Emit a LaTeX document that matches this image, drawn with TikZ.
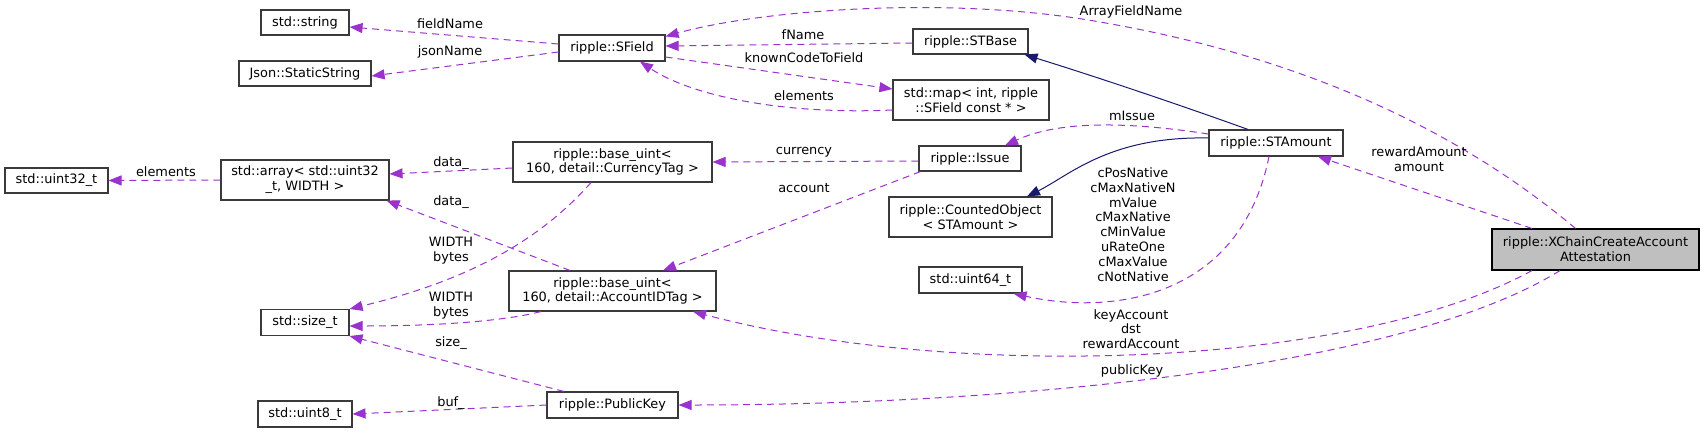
\documentclass[tikz,border=0pt]{standalone}
\usepackage{fontspec}
\setmainfont{DejaVu Sans}
\usetikzlibrary{arrows.meta}
\definecolor{edgepurple}{HTML}{9A32CD}
\definecolor{navyedge}{HTML}{191970}
\definecolor{boxborder}{HTML}{3A3A3A}
\definecolor{focusfill}{HTML}{BFBFBF}
\newcommand\dxfont{\fontsize{12.9}{14.8}\selectfont}
\begin{document}
\begin{tikzpicture}[x=1pt,y=-1pt,
  cls/.style={draw=boxborder, line width=1.1pt, fill=white, inner sep=0pt, align=center, font=\dxfont, text=black},
  focus/.style={cls, fill=focusfill, draw=black},
  member/.style={draw=edgepurple, line width=1pt, dash pattern=on 7pt off 5pt, -{Triangle[length=13pt,width=10pt]}},
  inherit/.style={draw=navyedge, line width=1pt, -{Triangle[length=13pt,width=10pt]}},
  elabel/.style={font=\dxfont, align=center, inner sep=0pt, text=black}]
\useasboundingbox[fill=white] (0,0) rectangle (1704,432);

% nodes
\node[cls, minimum width=88pt, minimum height=25pt] (str) at (305,22.5) {std::string};
\node[cls, minimum width=132pt, minimum height=25pt] (json) at (305,73.5) {Json::StaticString};
\node[cls, minimum width=103pt, minimum height=25pt] (u32) at (56.5,180.5) {std::uint32\_t};
\node[cls, minimum width=168pt, minimum height=40pt] (arr) at (305,180) {std::array{\textless} std::uint32\\\_t, WIDTH {\textgreater}};
\node[cls, minimum width=88pt, minimum height=26pt] (sizet) at (305,322.5) {std::size\_t};
\node[cls, minimum width=94pt, minimum height=26pt] (u8) at (305,414) {std::uint8\_t};
\node[cls, minimum width=106pt, minimum height=26pt] (sfield) at (612,48) {ripple::SField};
\node[cls, minimum width=199pt, minimum height=40pt] (cur) at (612.5,162) {ripple::base\_uint{\textless}\\160, detail::CurrencyTag {\textgreater}};
\node[cls, minimum width=207pt, minimum height=40pt] (acc) at (612.5,291) {ripple::base\_uint{\textless}\\160, detail::AccountIDTag {\textgreater}};
\node[cls, minimum width=131pt, minimum height=26pt] (pk) at (612.5,405) {ripple::PublicKey};
\node[cls, minimum width=115pt, minimum height=25pt] (stbase) at (970.5,41.5) {ripple::STBase};
\node[cls, minimum width=156pt, minimum height=40pt] (map) at (971,100) {std::map{\textless} int, ripple\\::SField const * {\textgreater}};
\node[cls, minimum width=102pt, minimum height=25pt] (issue) at (970,158.5) {ripple::Issue};
\node[cls, minimum width=163pt, minimum height=40pt] (counted) at (970.5,217) {ripple::CountedObject\\{\textless} STAmount {\textgreater}};
\node[cls, minimum width=103pt, minimum height=26pt] (u64) at (970.5,280) {std::uint64\_t};
\node[cls, minimum width=134pt, minimum height=26pt] (stamount) at (1276,143) {ripple::STAmount};
\node[focus, minimum width=207pt, minimum height=41pt] (xchain) at (1595.5,249.5) {ripple::XChainCreateAccount\\Attestation};

% edges
\draw[member] ([yshift=4pt]sfield.west) -- ([yshift=-4.5pt]str.east);
\draw[member] ([yshift=-4pt]sfield.west) -- ([yshift=-2.5pt]json.east);
\draw[member] ([yshift=-1.5pt]stbase.west) -- ([yshift=2pt]sfield.east);
\draw[member] ([xshift=-20pt]xchain.north) .. controls (1470,140) and (1320,60) .. (1100,22)
   .. controls (950,-5) and (760,10) .. ([yshift=-2pt]sfield.north east);
\draw[member] ([yshift=-9pt]sfield.east) -- ([yshift=11pt]map.west);
\draw[member] ([yshift=-10pt]map.west) .. controls (780,115) and (690,95) .. ([xshift=28pt]sfield.south);
\draw[inherit] ([xshift=-28pt]stamount.north) .. controls (1180,105) and (1100,78) .. ([xshift=-4pt]stbase.south east);
\draw[inherit] ([yshift=5pt]stamount.west) .. controls (1110,136) and (1070,175) .. ([xshift=56.5pt]counted.north);
\draw[member] ([yshift=9pt]stamount.west) .. controls (1130,122) and (1060,120) .. ([xshift=35pt]issue.north);
\draw[member] ([yshift=-2.5pt]issue.west) -- (cur.east);
\draw[member] ([xshift=2pt]issue.south west) -- ([xshift=50.5pt]acc.north);
\draw[member] ([yshift=-6pt]cur.west) -- ([yshift=6pt]arr.east);
\draw[member] ([xshift=-42.5pt]acc.north) -- ([xshift=-3pt]arr.south east);
\draw[member] ([xshift=-21.5pt]cur.south) .. controls (540,240) and (470,280) .. (sizet.north east);
\draw[member] ([xshift=-71.5pt]acc.south) .. controls (500,322) and (430,326) .. ([yshift=-3.5pt]sizet.east);
\draw[member] ([xshift=-48.5pt]pk.north) -- (sizet.south east);
\draw[member] (pk.west) -- (u8.east);
\draw[member] (arr.west) -- (u32.east);
\draw[member] ([xshift=-7pt]stamount.south) .. controls (1240,300) and (1110,315) .. ([xshift=-9pt]u64.south east);
\draw[member] ([xshift=-63.5pt]xchain.north) -- ([xshift=42pt]stamount.south);
\draw[member] ([xshift=-63.5pt]xchain.south) .. controls (1350,370) and (950,380) .. ([xshift=80.5pt]acc.south);
\draw[member] ([xshift=-35.5pt]xchain.south) .. controls (1400,370) and (1000,405) .. (pk.east);

% edge labels
\node[elabel] (l1) at (450,24) {fieldName};
\node[elabel] (l2) at (450,52) {jsonName};
\node[elabel] (l3) at (803,35) {fName};
\node[elabel] (l4) at (804,58) {knownCodeToField};
\node[elabel] (l5) at (804,96) {elements};
\node[elabel] (l6) at (804,152) {currency};
\node[elabel] (l7) at (804,188) {account};
\node[elabel] (l8) at (1132,116) {mIssue};
\node[elabel] (l9) at (1131,12) {ArrayFieldName};
\node[elabel] (l10) at (451,163) {data\_};
\node[elabel] (l11) at (451,202) {data\_};
\node[elabel] (l12) at (451,250.5) {WIDTH\\bytes};
\node[elabel] (l13) at (451,305.5) {WIDTH\\bytes};
\node[elabel] (l14) at (451,343) {size\_};
\node[elabel] (l15) at (451,403) {buf\_};
\node[elabel] (l16) at (166,172) {elements};
\node[elabel] (l17) at (1133,224.5) {cPosNative\\cMaxNativeN\\mValue\\cMaxNative\\cMinValue\\uRateOne\\cMaxValue\\cNotNative};
\node[elabel] (l18) at (1419,159) {rewardAmount\\amount};
\node[elabel] (l19) at (1131,329) {keyAccount\\dst\\rewardAccount};
\node[elabel] (l20) at (1132,371) {publicKey};
\end{tikzpicture}
\end{document}
